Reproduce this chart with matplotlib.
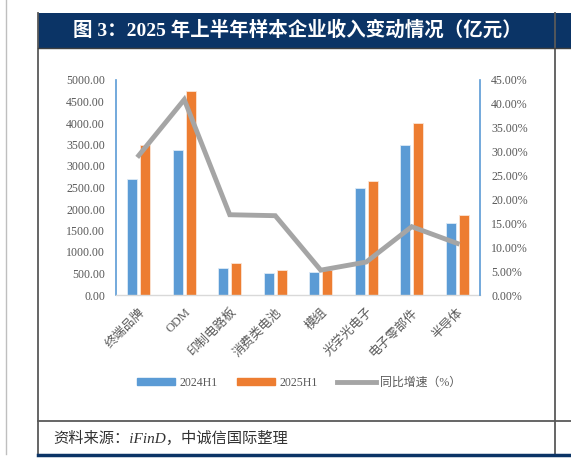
import numpy as np
import matplotlib
matplotlib.use('Agg')
import matplotlib.pyplot as plt
from matplotlib.patches import Rectangle, Patch
from matplotlib.lines import Line2D

categories = ['终端品牌', 'ODM', '印制电路板', '消费类电池', '模组', '光学光电子', '电子零部件', '半导体']
h1_2024 = [2700, 3370, 628, 504, 535, 2481, 3481, 1674]
h1_2025 = [3480, 4740, 737, 581, 570, 2643, 3992, 1853]
growth = [29.2, 40.9, 16.8, 16.6, 5.2, 6.9, 14.3, 10.8]  # %

fam = ['Liberation Serif', 'Noto Sans CJK SC']
plt.rcParams['font.family'] = fam
blue = '#5B9BD5'
orange = '#ED7D31'
grey_line = '#A5A5A5'
txt = '#595959'
navy = '#0B3466'

W, H = 571, 459
fig = plt.figure(figsize=(W / 100, H / 100), dpi=100)

# background / frame in pixel coords
bg = fig.add_axes([0, 0, 1, 1])
bg.set_xlim(0, W)
bg.set_ylim(H, 0)
bg.axis('off')
bg.plot([6, 6], [0, 454], color='#BFBFBF', lw=1)
bg.add_patch(Rectangle((38, 13), W - 38, 35, color=navy, lw=0))
bg.plot([38, 38], [13, 455], color='#595959', lw=1.3)
bg.plot([555, 555], [13, 455], color='#595959', lw=1.3)
bg.plot([38, W], [48, 48], color='#404040', lw=1)
bg.plot([38, W], [421, 421], color='#595959', lw=1.3)
bg.plot([38, W], [454.5, 454.5], color=navy, lw=2.5)
bg.text(297, 30, '图 3：2025 年上半年样本企业收入变动情况（亿元）', color='white',
        fontsize=14, fontweight='bold', ha='center', va='center', family=fam)
bg.text(53, 438, '资料来源：iFinD，中诚信国际整理', color='#333333', fontsize=11,
        style='italic', ha='left', va='center', family=fam)

# chart
ax = fig.add_axes([116 / W, 1 - 295 / H, (480 - 116) / W, (295 - 80) / H])
x = np.arange(len(categories))
bw = 0.22
off = 0.143
ax.bar(x - off, h1_2024, bw, color=blue, edgecolor='#DDEBF7', lw=0.6, label='2024H1')
ax.bar(x + off, h1_2025, bw, color=orange, edgecolor='#FBE5D6', lw=0.6, label='2025H1')
ax.set_xlim(-0.5, len(categories) - 0.5)
ax.set_ylim(0, 5000)
ax.set_yticks(np.arange(0, 5001, 500))
ax.set_yticklabels(['%.2f' % v for v in np.arange(0, 5001, 500)])
ax.set_xticks(x)
ax.set_xticklabels(categories, rotation=45, ha='right', rotation_mode='anchor')
ax.tick_params(axis='x', length=0, pad=8, labelsize=9, colors=txt)
ax.tick_params(axis='y', length=0, pad=8, labelsize=8.6, colors=txt)
for s in ['top', 'right']:
    ax.spines[s].set_visible(False)
ax.spines['left'].set_color(blue)
ax.spines['left'].set_linewidth(1.2)
ax.spines['bottom'].set_color('#D9D9D9')
ax.spines['bottom'].set_linewidth(1)

ax2 = ax.twinx()
ax2.plot(x, np.array(growth) / 100, color=grey_line, lw=3.5, solid_joinstyle='miter')
ax2.set_ylim(0, 0.45)
ax2.set_yticks(np.arange(0, 0.451, 0.05))
ax2.set_yticklabels(['%.2f%%' % (v * 100) for v in np.arange(0, 0.451, 0.05)])
ax2.tick_params(axis='y', length=0, pad=8, labelsize=8.6, colors=txt)
for s in ['top', 'left', 'bottom']:
    ax2.spines[s].set_visible(False)
ax2.spines['right'].set_color(blue)
ax2.spines['right'].set_linewidth(1.2)

handles = [Patch(color=blue), Patch(color=orange), Line2D([], [], color=grey_line, lw=3.5)]
labels = ['2024H1', '2025H1', '同比增速（%）']
leg = fig.legend(handles, labels, loc='center', bbox_to_anchor=(299 / W, 1 - 383 / H), ncol=3,
                 frameon=False, fontsize=8.6, handlelength=3.2, handleheight=0.5,
                 handletextpad=0.4, columnspacing=1.6)
for t in leg.get_texts():
    t.set_color(txt)

fig.savefig('out.png', dpi=100)
